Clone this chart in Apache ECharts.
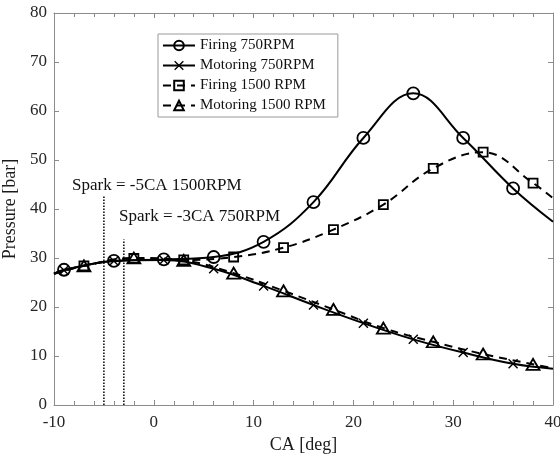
<!DOCTYPE html>
<html>
<head>
<meta charset="utf-8">
<script src="https://cdn.jsdelivr.net/npm/echarts@6/dist/echarts.min.js"></script>
<style>
  html, body { margin: 0; padding: 0; background: #fff; }
  #chart { width: 560px; height: 459px; }
</style>
</head>
<body>
<div id="chart"></div>
<script>
// ---- Data ----
const ca750 = [-10, -9, -4, 1, 6, 11, 16, 21, 26, 31, 36, 40];
const firing750 = [26.8, 27.6, 29.4, 29.7, 30.2, 33.3, 41.4, 54.5, 63.6, 54.5, 44.2, 37.4];
const motoring750 = [26.8, 27.5, 29.4, 29.6, 27.8, 24.3, 20.4, 16.7, 13.4, 10.7, 8.4, 7.4];

const ca1500 = [-10, -7, -2, 3, 8, 13, 18, 23, 28, 33, 38, 40];
const firing1500 = [26.8, 28.4, 29.9, 29.6, 30.2, 32.1, 35.8, 40.9, 48.3, 51.6, 45.3, 42.2];
const motoring1500 = [26.8, 28.4, 30.0, 29.5, 26.9, 23.3, 19.5, 15.7, 12.9, 10.4, 8.3, 7.5];

const sparkCA = [-5, -3];
const sparkTop = [42.8, 33.8];
const sparkLabels = ['Spark = -5CA 1500RPM', 'Spark = -3CA 750RPM'];

const seriesNames = ['Firing 750RPM', 'Motoring 750RPM', 'Firing 1500 RPM', 'Motoring 1500 RPM'];
const xTicks = { min: -10, max: 40, interval: 10 };
const yTicks = { min: 0, max: 80, interval: 10 };

// ---- Chart ----
const FONT = "'Liberation Serif', 'Times New Roman', serif";
const AXIS_COLOR = '#8c8c8c';
const xMark = 'path://M0,1 L1,0 L5,4 L9,0 L10,1 L6,5 L10,9 L9,10 L5,6 L1,10 L0,9 L4,5 Z';

function buildData(xs, ys) {
  return xs.map((x, i) => {
    const item = { value: [x, ys[i]] };
    if (i === 0 || i === xs.length - 1) item.symbol = 'none';
    return item;
  });
}

function lineSeries(name, xs, ys, opts) {
  return {
    name: name,
    type: 'line',
    smooth: 0.4,
    showAllSymbol: true,
    symbol: opts.symbol,
    symbolSize: opts.symbolSize,
    data: buildData(xs, ys),
    lineStyle: { color: '#000', width: 2, type: opts.dash || 'solid' },
    itemStyle: { color: opts.fill, borderColor: '#000', borderWidth: opts.border },
    emphasis: { disabled: true },
    z: opts.z || 2
  };
}

const series = [
  lineSeries(seriesNames[0], ca750, firing750, { symbol: 'circle', symbolSize: 12, fill: 'rgba(255,255,255,0)', border: 1.8 }),
  lineSeries(seriesNames[1], ca750, motoring750, { symbol: xMark, symbolSize: 10, fill: '#000', border: 0 }),
  lineSeries(seriesNames[2], ca1500, firing1500, { symbol: 'rect', symbolSize: 9, fill: 'rgba(255,255,255,0)', border: 1.8, dash: [8, 6] }),
  lineSeries(seriesNames[3], ca1500, motoring1500, { symbol: 'triangle', symbolSize: [13, 11], fill: 'rgba(255,255,255,0)', border: 1.8, dash: [8, 6] })
];

sparkCA.forEach((x, i) => {
  series.push({
    name: 'spark' + i,
    type: 'line',
    symbol: 'none',
    data: [[x, 0], [x, sparkTop[i]]],
    lineStyle: { color: '#000', width: 1.5, type: [1.5, 1.5] },
    emphasis: { disabled: true },
    silent: true,
    z: 1
  });
});

function xAxisCfg(pos, labels) {
  return {
    type: 'value', position: pos, min: xTicks.min, max: xTicks.max, interval: xTicks.interval,
    axisLine: { show: true, onZero: false, lineStyle: { color: AXIS_COLOR, width: 1 } },
    axisTick: { show: true, inside: true, length: 5, lineStyle: { color: AXIS_COLOR } },
    minorTick: { show: true, splitNumber: 5, length: 4, lineStyle: { color: AXIS_COLOR } },
    splitLine: { show: false },
    axisLabel: { show: labels, fontSize: 17, color: '#262626', fontFamily: FONT, margin: 9 },
    name: labels ? 'CA [deg]' : '',
    nameLocation: 'middle', nameGap: 26,
    nameTextStyle: { fontSize: 18, color: '#1a1a1a', fontFamily: FONT }
  };
}
function yAxisCfg(pos, labels) {
  return {
    type: 'value', position: pos, min: yTicks.min, max: yTicks.max, interval: yTicks.interval,
    axisLine: { show: true, onZero: false, lineStyle: { color: AXIS_COLOR, width: 1 } },
    axisTick: { show: true, inside: true, length: 5, lineStyle: { color: AXIS_COLOR } },
    splitLine: { show: false },
    axisLabel: { show: labels, fontSize: 17, color: '#262626', fontFamily: FONT, margin: 7 },
    name: labels ? 'Pressure [bar]' : '',
    nameLocation: 'middle', nameGap: 27, nameRotate: 90,
    nameTextStyle: { fontSize: 18, color: '#1a1a1a', fontFamily: FONT }
  };
}

const chart = echarts.init(document.getElementById('chart'), null, { renderer: 'canvas' });
chart.setOption({
  animation: false,
  backgroundColor: '#fff',
  grid: { left: 54, right: 7, top: 13, bottom: 54, containLabel: false, outerBoundsMode: 'none' },
  xAxis: [xAxisCfg('bottom', true), xAxisCfg('top', false)],
  yAxis: [yAxisCfg('left', true), yAxisCfg('right', false)],
  legend: {
    data: seriesNames,
    orient: 'vertical',
    left: 158, top: 34,
    padding: [4, 12, 4, 4],
    itemWidth: 32, itemHeight: 12, itemGap: 5,
    borderColor: '#999', borderWidth: 1, backgroundColor: '#fff',
    textStyle: { fontSize: 15, lineHeight: 15, color: '#111', fontFamily: FONT },
    selectedMode: false
  },
  graphic: [
    { type: 'text', left: 72, top: 177, style: { text: sparkLabels[0], font: '17px ' + FONT, fill: '#111' } },
    { type: 'text', left: 119, top: 208, style: { text: sparkLabels[1], font: '17px ' + FONT, fill: '#111' } }
  ],
  series: series
});
</script>
</body>
</html>
